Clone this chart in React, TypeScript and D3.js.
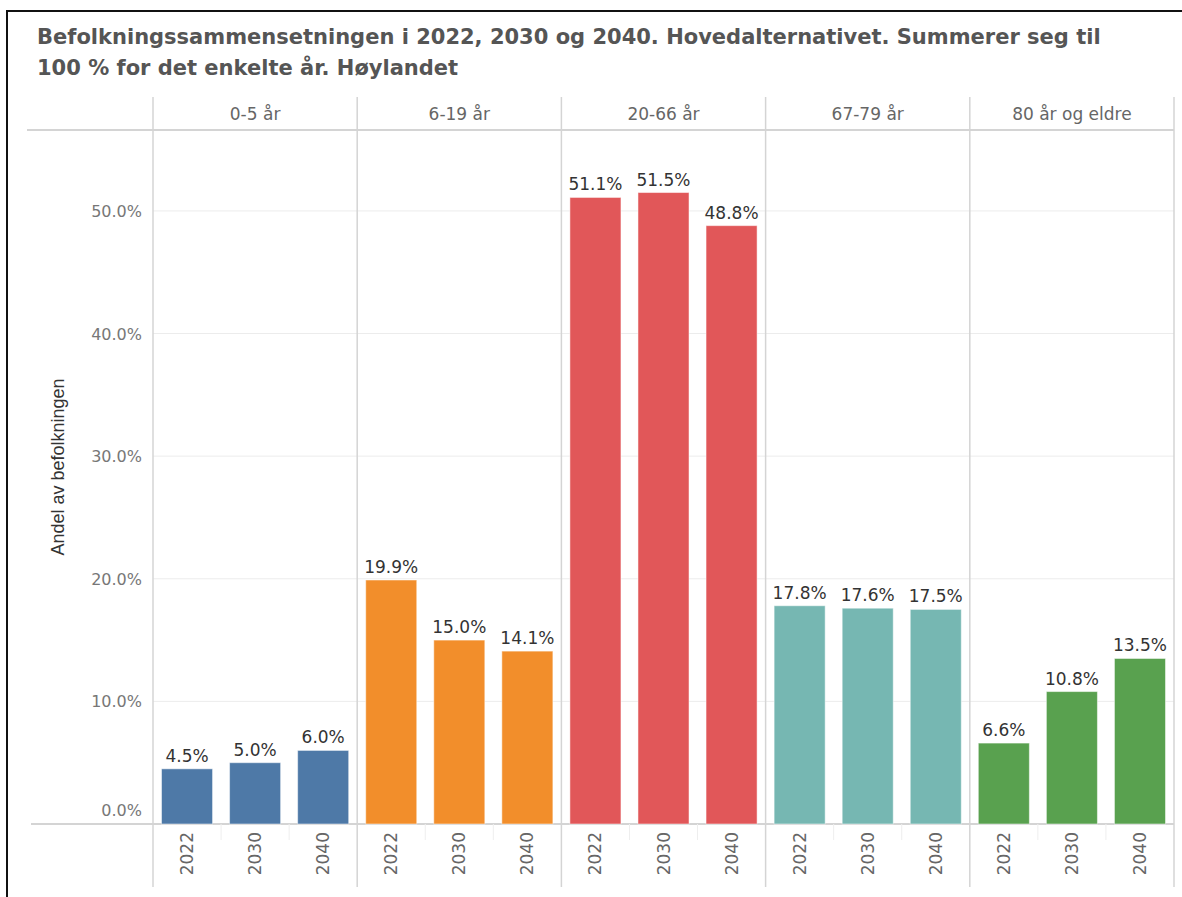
import React from "react";
import * as d3 from "d3";

const ageGroups = ["0-5 år", "6-19 år", "20-66 år", "67-79 år", "80 år og eldre"];
const years = ["2022", "2030", "2040"];
const shares = [
  [4.5, 5.0, 6.0],
  [19.9, 15.0, 14.1],
  [51.1, 51.5, 48.8],
  [17.8, 17.6, 17.5],
  [6.6, 10.8, 13.5],
];
const colors = ["#4e79a7", "#f28e2b", "#e15759", "#76b7b2", "#59a14f"];
const yTicks = [0, 10, 20, 30, 40, 50];

const W = 1182;
const H = 897;
const plot = { left: 153, right: 1174, top: 130, bottom: 824 };
const font = "'DejaVu Sans', sans-serif";

const App = () => {
  const groupX = d3
    .scaleBand()
    .domain(ageGroups)
    .range([plot.left, plot.right])
    .padding(0);

  const yearX = d3
    .scaleBand()
    .domain(years)
    .range([0, groupX.bandwidth()])
    .paddingInner(0.25)
    .paddingOuter(0.125);

  const y = d3.scaleLinear().domain([0, 56.6]).range([plot.bottom, plot.top]);
  const fmt = (v) => d3.format(".1f")(v) + "%";

  return (
    <svg
      width={W}
      height={H}
      style={{ position: "absolute", left: 0, top: 0, background: "#fff" }}
    >
      {/* frame */}
      <path d={`M7,${H} V11 H${W}`} fill="none" stroke="#111" strokeWidth={2} />

      <text x={37} y={44} fontFamily={font} fontSize={21} fontWeight="bold" fill="#555">
        Befolkningssammensetningen i 2022, 2030 og 2040. Hovedalternativet. Summerer seg til
      </text>
      <text x={37} y={75} fontFamily={font} fontSize={21} fontWeight="bold" fill="#555">
        100 % for det enkelte år. Høylandet
      </text>

      {/* gridlines */}
      {yTicks.slice(1).map((t) => (
        <line key={t} x1={plot.left} x2={plot.right} y1={y(t)} y2={y(t)} stroke="#ececec" />
      ))}

      {/* header line and axis line */}
      <line x1={27} x2={plot.right} y1={plot.top} y2={plot.top} stroke="#d4d4d4" strokeWidth={2} />
      <line x1={31} x2={plot.right} y1={plot.bottom} y2={plot.bottom} stroke="#d4d4d4" strokeWidth={2} />

      {/* column separators */}
      {ageGroups.map((g) => (
        <line
          key={g}
          x1={groupX(g)}
          x2={groupX(g)}
          y1={97}
          y2={887}
          stroke="#d4d4d4"
          strokeWidth={1.5}
        />
      ))}
      <line x1={plot.right} x2={plot.right} y1={97} y2={887} stroke="#d4d4d4" strokeWidth={1.5} />

      {/* header labels */}
      {ageGroups.map((g) => (
        <text
          key={g}
          x={groupX(g) + groupX.bandwidth() / 2}
          y={120}
          textAnchor="middle"
          fontFamily={font}
          fontSize={17}
          fill="#666"
        >
          {g}
        </text>
      ))}

      {/* y ticks */}
      {yTicks.map((t) => (
        <text
          key={t}
          x={142}
          y={t === 0 ? y(t) - 8 : y(t) + 6}
          textAnchor="end"
          fontFamily={font}
          fontSize={16}
          fill="#777"
        >
          {fmt(t)}
        </text>
      ))}

      <text
        transform={`translate(64,${467}) rotate(-90)`}
        textAnchor="middle"
        fontFamily="'Liberation Sans', Arial, sans-serif"
        fontSize={18}
        fill="#333"
      >
        Andel av befolkningen
      </text>

      {/* bars */}
      {ageGroups.map((g, gi) => (
        <g key={g} transform={`translate(${groupX(g)},0)`}>
          {years.map((yr, i) => {
            const v = shares[gi][i];
            const bx = yearX(yr);
            return (
              <g key={yr}>
                <rect
                  x={bx}
                  y={y(v)}
                  width={yearX.bandwidth()}
                  height={plot.bottom - y(v)}
                  fill={colors[gi]}
                  stroke="#ffffff"
                  strokeOpacity={0.5}
                />
                <text
                  x={bx + yearX.bandwidth() / 2}
                  y={y(v) - 7}
                  textAnchor="middle"
                  fontFamily={font}
                  fontSize={17}
                  fill="#333"
                >
                  {fmt(v)}
                </text>
                <text
                  transform={`translate(${bx + yearX.bandwidth() / 2 + 6},${832}) rotate(-90)`}
                  textAnchor="end"
                  fontFamily={font}
                  fontSize={17}
                  fill="#666"
                >
                  {yr}
                </text>
                {i > 0 && (
                  <line
                    x1={bx - (yearX.step() - yearX.bandwidth()) / 2}
                    x2={bx - (yearX.step() - yearX.bandwidth()) / 2}
                    y1={plot.bottom}
                    y2={840}
                    stroke="#eeeeee"
                  />
                )}
              </g>
            );
          })}
        </g>
      ))}
    </svg>
  );
};

export default App;
